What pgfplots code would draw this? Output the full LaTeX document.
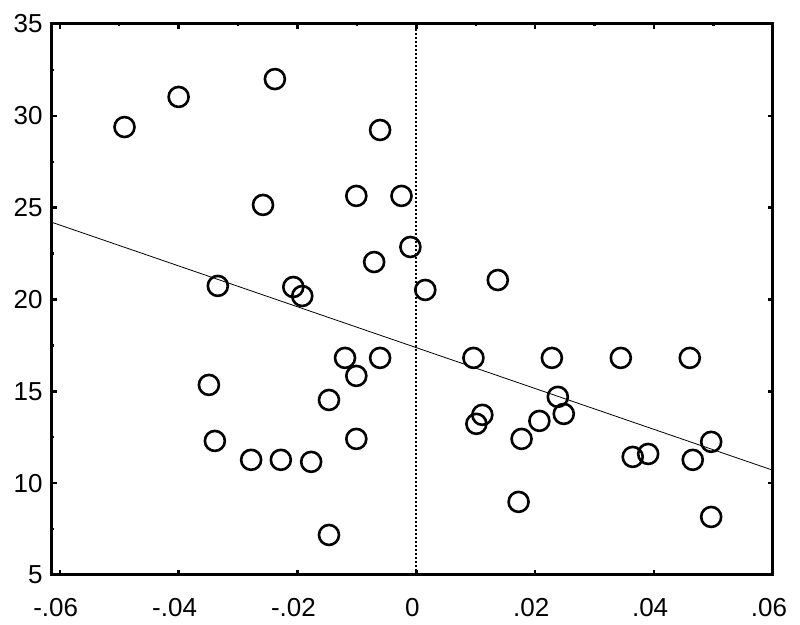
\documentclass[border=0pt]{standalone}
\usepackage{fontspec}
\setmainfont{Liberation Sans}
\usepackage{pgfplots}
\pgfplotsset{compat=1.18}
\begin{document}
\begin{tikzpicture}
\path[use as bounding box] (-26pt,-25pt) rectangle (374pt,287.5pt);
\begin{axis}[
  at={(0,0)}, anchor=south west,
  scale only axis, width=360.5pt, height=275.5pt,
  xmin=-0.0613, xmax=0.06, ymin=5, ymax=35,
  axis line style={line width=1.5pt},
  xtick={-0.06,-0.04,-0.02,0,0.02,0.04,0.06},
  xticklabels={-.06,-.04,-.02,0,.02,.04,.06},
  ytick={5,10,15,20,25,30,35},
  minor x tick num=1, minor y tick num=1,
  tick align=inside,
  major tick length=2.5pt, minor tick length=1.2pt,
  tick style={line width=1.2pt, black},
  /pgf/number format/assume math mode=true,
  ticklabel style={font=\fontsize{13}{15}\selectfont, inner sep=0pt},
  xticklabel style={yshift=-11.5pt, xshift=-2pt},
  yticklabel style={xshift=-4.5pt},
  clip=false,
]
\addplot[black, line width=1pt, densely dotted] coordinates {(0,5) (0,35)};
\addplot[black, line width=0.4pt] coordinates {(-0.0613,24.2) (0.06,10.7)};
\addplot[only marks, mark=o, mark size=5pt, mark options={line width=1.3pt, black}] coordinates {
(-0.0491,29.39) (-0.0400,31.03) (-0.0238,32.0) (-0.0258,25.15) (-0.0061,29.23)
(-0.0101,25.64) (-0.0025,25.64) (-0.0010,22.86) (-0.0071,22.04) (-0.0334,20.74)
(-0.0207,20.68) (-0.0192,20.19) (0.0015,20.52) (0.0137,21.06) (-0.0120,16.82)
(-0.0061,16.82) (-0.0101,15.84) (-0.0349,15.35) (-0.0147,14.53) (-0.0339,12.30)
(-0.0101,12.41) (-0.0278,11.27) (-0.0228,11.27) (-0.0177,11.16) (-0.0147,7.18)
(0.0096,16.82) (0.0228,16.82) (0.0344,16.82) (0.0460,16.82) (0.0238,14.70)
(0.0248,13.77) (0.0111,13.72) (0.0101,13.23) (0.0177,12.41) (0.0207,13.39)
(0.0364,11.43) (0.0390,11.59) (0.0465,11.27) (0.0496,12.25) (0.0172,8.98)
(0.0496,8.16)
};
\end{axis}
\end{tikzpicture}
\end{document}
